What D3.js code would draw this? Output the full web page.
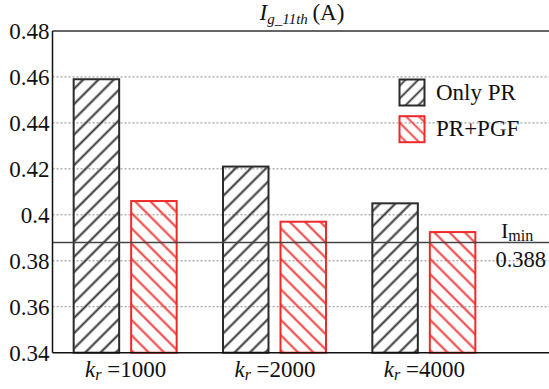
<!DOCTYPE html>
<html>
<head>
<meta charset="utf-8">
<script src="https://cdn.jsdelivr.net/npm/d3@7"></script>
<style>
  html, body { margin: 0; padding: 0; background: #fff; }
  svg text { font-family: "Liberation Serif", "Times New Roman", Times, serif; }
</style>
</head>
<body>
<svg id="chart" width="549" height="389"></svg>
<script>
// Harmonic current at the 11th order for each resonant-controller gain
const categories = ["1000", "2000", "4000"];
const seriesNames = ["Only PR", "PR+PGF"];
const onlyPR = [0.459, 0.421, 0.405];
const prPGF = [0.406, 0.397, 0.3925];
const yTicks = [0.34, 0.36, 0.38, 0.4, 0.42, 0.44, 0.46, 0.48];
const yTickLabels = ["0.34", "0.36", "0.38", "0.4", "0.42", "0.44", "0.46", "0.48"];
const iMin = 0.388;
const iMinLabel = "0.388";

const colors = { "Only PR": "#2b2b2b", "PR+PGF": "#ee2a2a" };
const hatchColors = { "Only PR": "#333333", "PR+PGF": "#f03c3c" };

const svg = d3.select("#chart");
const plotL = 52.5, plotR = 549, plotT = 31, plotB = 352.7;

const y = d3.scaleLinear().domain([0.34, 0.48]).range([plotB, plotT]);
const x0 = d3.scaleBand().domain(categories).range([50, 498]);

// hatch patterns: "/" for Only PR, "\" for PR+PGF
const defs = svg.append("defs");
function hatch(id, color, angle, spacing, width) {
  const p = defs.append("pattern")
    .attr("id", id)
    .attr("patternUnits", "userSpaceOnUse")
    .attr("width", spacing).attr("height", spacing)
    .attr("patternTransform", `rotate(${angle})`);
  p.append("line")
    .attr("x1", spacing / 2).attr("y1", 0).attr("x2", spacing / 2).attr("y2", spacing)
    .attr("stroke", color).attr("stroke-width", width);
}
hatch("h-pr", hatchColors["Only PR"], 45, 10.8, 2);
hatch("h-pgf", hatchColors["PR+PGF"], -45, 10.8, 2);
hatch("h-pr-leg", hatchColors["Only PR"], 45, 9, 1.8);
hatch("h-pgf-leg", hatchColors["PR+PGF"], -45, 9, 1.8);
const fills = { "Only PR": "url(#h-pr)", "PR+PGF": "url(#h-pgf)" };
const legFills = { "Only PR": "url(#h-pr-leg)", "PR+PGF": "url(#h-pgf-leg)" };

// dotted grid
const grid = yTicks.filter(v => v > 0.34 && v < 0.48);
svg.append("g").selectAll("line").data(grid).join("line")
  .attr("x1", plotL).attr("x2", plotR)
  .attr("y1", d => y(d)).attr("y2", d => y(d))
  .attr("stroke", "#8a8a8a").attr("stroke-width", 1)
  .attr("stroke-dasharray", "2,2");

// top frame line
svg.append("line")
  .attr("x1", plotL).attr("x2", plotR)
  .attr("y1", y(0.48)).attr("y2", y(0.48))
  .attr("stroke", "#666").attr("stroke-width", 2);

// bars
const rows = categories.map((c, i) => ({ cat: c, vals: [
  { s: "Only PR", v: onlyPR[i] }, { s: "PR+PGF", v: prPGF[i] } ] }));

const groups = svg.append("g").selectAll("g").data(rows).join("g")
  .attr("transform", d => `translate(${x0(d.cat) + x0.bandwidth() / 2},0)`);
const x1 = d3.scaleBand().domain(seriesNames).range([-51, 52]).paddingInner(0.2087);

groups.selectAll("rect").data(d => d.vals).join("rect")
  .attr("x", d => x1(d.s))
  .attr("y", d => y(d.v))
  .attr("width", x1.bandwidth())
  .attr("height", d => y(0.34) - y(d.v))
  .attr("fill", d => fills[d.s])
  .attr("stroke", d => colors[d.s])
  .attr("stroke-width", 2);

// I_min threshold
svg.append("line")
  .attr("x1", plotL).attr("x2", plotR)
  .attr("y1", y(iMin)).attr("y2", y(iMin))
  .attr("stroke", "#444").attr("stroke-width", 1.5);

const imin = svg.append("text").attr("x", 501).attr("y", y(iMin) - 4)
  .attr("font-size", 22).attr("fill", "#111");
imin.append("tspan").text("I");
imin.append("tspan").attr("font-size", 16).attr("dy", 3).text("min");
svg.append("text").attr("x", 546).attr("y", y(iMin) + 25)
  .attr("text-anchor", "end").attr("font-size", 22.5).attr("fill", "#111")
  .text(iMinLabel);

// axes lines
svg.append("line").attr("x1", plotL).attr("x2", plotL)
  .attr("y1", plotT).attr("y2", plotB)
  .attr("stroke", "#111").attr("stroke-width", 1.5);
svg.append("line").attr("x1", plotL).attr("x2", plotR)
  .attr("y1", plotB).attr("y2", plotB)
  .attr("stroke", "#111").attr("stroke-width", 1.5);

// y tick labels via axis generator
const yAxis = d3.axisLeft(y).tickValues(yTicks)
  .tickFormat((d, i) => yTickLabels[i]).tickSize(0).tickPadding(3);
const gy = svg.append("g").attr("transform", `translate(${plotL},0)`).call(yAxis);
gy.select(".domain").remove();
gy.selectAll("text")
  .attr("font-size", 23).attr("fill", "#111").attr("dy", "0.34em");

// x category labels
const xl = svg.append("g").selectAll("text").data(categories).join("text")
  .attr("x", d => x0(d) + x0.bandwidth() / 2 + 1)
  .attr("y", 377)
  .attr("text-anchor", "middle")
  .attr("font-size", 23).attr("fill", "#111");
xl.append("tspan").attr("font-style", "italic").text("k");
xl.append("tspan").attr("font-style", "italic").attr("font-size", 16).attr("dy", 3).text("r");
xl.append("tspan").attr("dy", -3).text(d => " =" + d);

// title
const title = svg.append("text").attr("x", 302).attr("y", 20)
  .attr("text-anchor", "middle").attr("font-size", 23).attr("fill", "#111");
title.append("tspan").attr("font-style", "italic").text("I");
title.append("tspan").attr("font-style", "italic").attr("font-size", 15).attr("dy", 4).text("g_11th");
title.append("tspan").attr("dy", -4).text("\u2009(A)");

// legend
const leg = svg.append("g").selectAll("g").data(seriesNames).join("g")
  .attr("transform", (d, i) => `translate(399.5,${79.5 + i * 36.7})`);
leg.append("rect").attr("width", 25).attr("height", 26)
  .attr("fill", d => legFills[d]).attr("stroke", d => colors[d]).attr("stroke-width", 2);
leg.append("text").attr("x", 36.5).attr("y", 20)
  .attr("font-size", 23).attr("fill", "#111").text(d => d);
</script>
</body>
</html>
